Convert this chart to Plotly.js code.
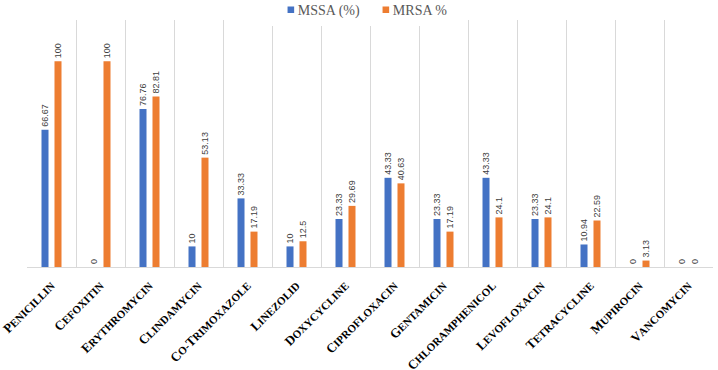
<!DOCTYPE html>
<html>
<head>
<meta charset="utf-8">
<script src="https://cdn.plot.ly/plotly-3.0.1.min.js"></script>
<style>html,body{margin:0;padding:0;background:#fff;}#chart{width:718px;height:370px;}</style>
</head>
<body>
<div id="chart"></div>
<script>
var categories = ["Penicillin","Cefoxitin","Erythromycin","Clindamycin","Co-trimoxazole","Linezolid","Doxycycline","Ciprofloxacin","Gentamicin","Chloramphenicol","Levofloxacin","Tetracycline","Mupirocin","Vancomycin"];
var mssa = [66.67, 0, 76.76, 10, 33.33, 10, 23.33, 43.33, 23.33, 43.33, 23.33, 10.94, 0, 0];
var mrsa = [100, 100, 82.81, 53.13, 17.19, 12.5, 29.69, 40.63, 17.19, 24.1, 24.1, 22.59, 3.13, 0];
var seriesNames = ["MSSA (%)", "MRSA %"];
var seriesColors = ["#4472C4", "#ED7D31"];

// small-caps rendering of category names
function smallCaps(s) {
  return s.split(/(-)/).map(function (part) {
    if (part === "-") return '<span style="font-size:11px">-</span>';
    if (!part) return "";
    return '<span style="font-size:13px">' + part.charAt(0).toUpperCase() + '</span>' +
           '<span style="font-size:11px">' + part.slice(1).toUpperCase() + '</span>';
  }).join("");
}
var tickText = categories.map(smallCaps);

var labelFont = {family: "Liberation Sans, Arial, sans-serif", size: 9, color: "#404040"};
function mk(i, vals) {
  return {
    type: "bar", name: seriesNames[i], x: categories, y: vals,
    marker: {color: seriesColors[i]},
    text: vals.map(String), textposition: "outside", textangle: -90,
    constraintext: "none", cliponaxis: false,
    textfont: labelFont, hoverinfo: "none"
  };
}
var data = [mk(0, mssa), mk(1, mrsa)];
var layout = {
  width: 718, height: 370,
  margin: {l: 27, r: 5, t: 20, b: 103, autoexpand: false},
  paper_bgcolor: "#fff", plot_bgcolor: "#fff",
  barmode: "group", bargap: 0.47, bargroupgap: 0.46,
  showlegend: true,
  legend: {orientation: "h", x: 0.475, xanchor: "center", yref: "paper", y: 1.04, yanchor: "middle",
    itemwidth: 30, tracegroupgap: 0, entrywidth: 50, entrywidthmode: "pixels",
    font: {family: "Liberation Serif, Times New Roman, serif", size: 14, color: "#595959"}},
  xaxis: {type: "category", tickson: "boundaries", showgrid: true, gridcolor: "#d9d9d9", gridwidth: 1,
    showline: true, linecolor: "#d9d9d9", ticks: "", tickangle: -45, ticklabelstandoff: 6,
    tickvals: categories, ticktext: tickText,
    tickfont: {family: "Liberation Serif, Times New Roman, serif", size: 12, color: "#000", weight: "bold"}},
  yaxis: {range: [0, 120], visible: false, showgrid: false, zeroline: false}
};
Plotly.newPlot("chart", data, layout, {displayModeBar: false, staticPlot: true}).then(function (gd) {
  // shrink legend swatches to small squares next to their text, as in the original
  var paths = gd.querySelectorAll(".legend .legendpoints path");
  paths.forEach(function (p) { p.setAttribute("transform", "translate(33,0) scale(0.55)"); });
});
</script>
</body>
</html>
